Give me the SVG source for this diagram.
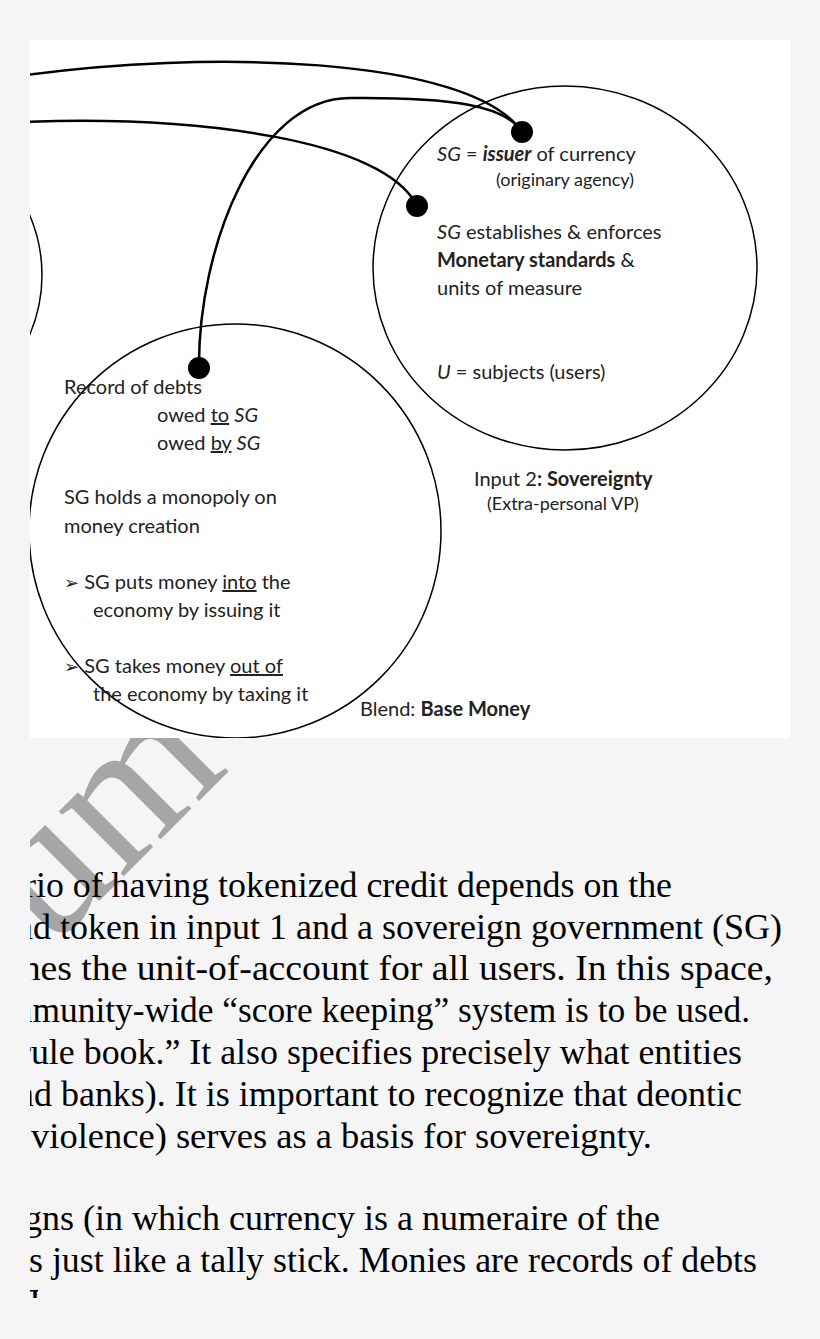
<svg xmlns="http://www.w3.org/2000/svg" width="820" height="1339" viewBox="0 0 820 1339">
<style>
.d{font-family:Lato,"Liberation Sans",sans-serif;font-size:20px;fill:#222}
.b{font-weight:bold}
.s{font-size:18px}
.t{font-family:"Liberation Serif",serif;font-size:36px;fill:#000}
.c{fill:none;stroke:#000;stroke-width:1.5}
.w{fill:none;stroke:#000;stroke-width:2.5}
</style>
<defs>
<clipPath id="img"><rect x="30" y="40" width="760" height="698"/></clipPath>
<clipPath id="pg"><rect x="30" y="738" width="790" height="601"/></clipPath>
<clipPath id="last"><rect x="30" y="1288" width="8" height="10"/></clipPath>
</defs>
<rect width="820" height="1339" fill="#f5f5f5"/>
<rect x="30" y="40" width="760" height="698" fill="#fff"/>
<g clip-path="url(#pg)">
<text x="0" y="0" transform="translate(50,950) rotate(-45)" font-family="Liberation Serif,serif" font-size="200" fill="#a6a6a6">um</text>
</g>
<g clip-path="url(#img)">
<g id="left-circle"><ellipse class="c" cx="-150" cy="275" rx="192" ry="170"/></g>
<g id="blend">
<ellipse class="c" cx="235" cy="531" rx="206" ry="207"/>
<text class="d" x="64" y="394">Record of debts</text>
<text class="d" x="157" y="422">owed <tspan text-decoration="underline">to</tspan> <tspan font-style="italic">SG</tspan></text>
<text class="d" x="157" y="450">owed <tspan text-decoration="underline">by</tspan> <tspan font-style="italic">SG</tspan></text>
<text class="d" x="64" y="504">SG holds a monopoly on</text>
<text class="d" x="64" y="533">money creation</text>
<text class="d" x="64" y="589"><tspan font-family="DejaVu Sans" font-size="18">➢</tspan> SG puts money <tspan text-decoration="underline">into</tspan> the</text>
<text class="d" x="93" y="617">economy by issuing it</text>
<text class="d" x="64" y="673"><tspan font-family="DejaVu Sans" font-size="18">➢</tspan> SG takes money <tspan text-decoration="underline">out of</tspan></text>
<text class="d" x="93" y="701">the economy by taxing it</text>
<text class="d" x="360" y="716">Blend: <tspan class="b">Base Money</tspan></text>
</g>
<g id="sovereignty">
<ellipse class="c" cx="565" cy="268" rx="192" ry="182"/>
<text class="d" x="437" y="161"><tspan font-style="italic">SG</tspan> = <tspan class="b" font-style="italic">issuer</tspan> of currency</text>
<text class="d s" x="496" y="186">(originary agency)</text>
<text class="d" x="437" y="239"><tspan font-style="italic">SG</tspan> establishes &amp; enforces</text>
<text class="d" x="437" y="267"><tspan class="b">Monetary standards</tspan> &amp;</text>
<text class="d" x="437" y="295">units of measure</text>
<text class="d" x="437" y="379"><tspan font-style="italic">U</tspan> = subjects (users)</text>
<text class="d" x="474" y="486">Input 2<tspan class="b">: Sovereignty</tspan></text>
<text class="d s" x="487" y="510">(Extra-personal VP)</text>
</g>
<g id="connectors">
<path class="w" d="M20,76 C200,50 470,55 522,132"/>
<path class="w" d="M20,122 C200,115 385,140 417,206"/>
<path class="w" d="M199,368 C198,250 255,98 350,98 C450,97 505,105 522,132"/>
<circle cx="522" cy="132" r="11"/>
<circle cx="417" cy="206" r="11"/>
<circle cx="199" cy="368" r="11"/>
</g>
</g>
<g clip-path="url(#pg)">
<text class="t" x="24" y="897" textLength="648" lengthAdjust="spacingAndGlyphs">rio of having tokenized credit depends on the</text>
<text class="t" x="15" y="939" textLength="767" lengthAdjust="spacingAndGlyphs">nd token in input 1 and a sovereign government (SG)</text>
<text class="t" x="7" y="980" textLength="766" lengthAdjust="spacingAndGlyphs">shes the unit-of-account for all users. In this space,</text>
<text class="t" x="5" y="1022" textLength="745" lengthAdjust="spacingAndGlyphs">mmunity-wide “score keeping” system is to be used.</text>
<text class="t" x="19" y="1064" textLength="723" lengthAdjust="spacingAndGlyphs">rule book.” It also specifies precisely what entities</text>
<text class="t" x="16" y="1106" textLength="726" lengthAdjust="spacingAndGlyphs">nd banks). It is important to recognize that deontic</text>
<text class="t" x="31" y="1148" textLength="621" lengthAdjust="spacingAndGlyphs"> violence) serves as a basis for sovereignty.</text>
<text class="t" x="14" y="1230" textLength="646" lengthAdjust="spacingAndGlyphs">igns (in which currency is a numeraire of the</text>
<text class="t" x="19" y="1272" textLength="738" lengthAdjust="spacingAndGlyphs">is just like a tally stick. Monies are records of debts</text>
</g>
<g clip-path="url(#last)"><text class="t" x="24" y="1314">T</text></g>
</svg>
